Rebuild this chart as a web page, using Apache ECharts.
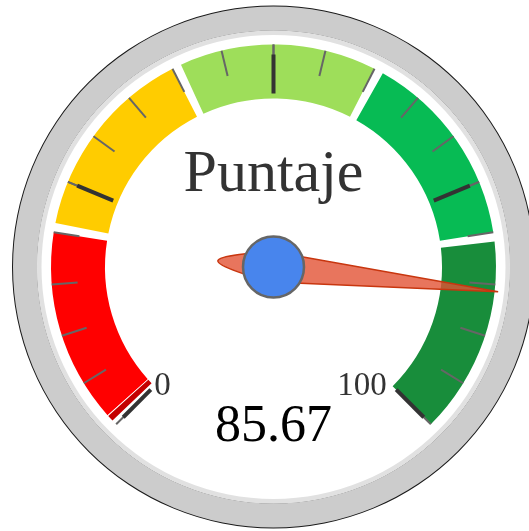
<!DOCTYPE html>
<html>
<head>
<meta charset="utf-8">
<style>
  html, body { margin: 0; padding: 0; background: #fff; }
  #chart { width: 529px; height: 531px; }
</style>
<script src="https://cdn.jsdelivr.net/npm/echarts@6/dist/echarts.min.js"></script>
</head>
<body>
<div id="chart"></div>
<script>
// datos del indicador
const scoreName = 'Puntaje';
const scoreValue = 85.67;
const axisMin = 0;
const axisMax = 100;
const bandLimits = [0, 20, 40, 60, 80, 100];
const shownLabels = [0, 100];

// estilos
const bandColors = ['#ff0000', '#ffcc00', '#9ede5a', '#07bb54', '#188d3b'];
const FONT = 'Liberation Serif';
const CENTER = [273.5, 267];
const START = 225;
const END = -45;

const span = axisMax - axisMin;
const frac = v => (v - axisMin) / span;

// tramos de color con un pequeño hueco transparente al inicio de cada uno
const buildBandStops = () => {
  const stops = [];
  const gap = 0.009;
  bandLimits.slice(0, -1).forEach((lo, i) => {
    const hi = bandLimits[i + 1];
    if (i === 0) {
      // borde oscuro del primer tramo
      stops.push([frac(lo) + 0.005, 'rgba(0,0,0,0)']);
      stops.push([frac(lo) + 0.011, '#c40000']);
      stops.push([frac(lo) + 0.012, 'rgba(255,255,255,0.8)']);
    } else {
      stops.push([frac(lo) + gap, 'rgba(0,0,0,0)']);
    }
    stops.push([frac(hi), bandColors[i]]);
  });
  return stops;
};

// gauge vacío que sólo dibuja un anillo
const ring = (radius, width, color) => ({
  type: 'gauge',
  center: CENTER,
  radius,
  startAngle: 90,
  endAngle: -270,
  silent: true,
  axisLine: { lineStyle: { width, color: [[1, color]] } },
  axisTick: { show: false },
  splitLine: { show: false },
  axisLabel: { show: false },
  pointer: { show: false },
  anchor: { show: false },
  title: { show: false },
  detail: { show: false },
  data: [],
});

const chart = echarts.init(document.getElementById('chart'), null, { renderer: 'canvas' });

chart.setOption({
  backgroundColor: '#fff',
  animation: false,
  series: [
    ring(261.5, 25, '#1a1a1a'),
    ring(260.5, 24, '#cccccc'),
    ring(236.5, 4.5, '#e1e1e1'),
    {
      // tramos de color + marcas menores
      type: 'gauge',
      center: CENTER,
      radius: 222.5,
      startAngle: START,
      endAngle: END,
      min: axisMin,
      max: axisMax,
      splitNumber: 4,
      silent: true,
      axisLine: { lineStyle: { width: 54, color: buildBandStops() } },
      axisTick: {
        show: true,
        splitNumber: 5,
        distance: -54,
        length: 26,
        lineStyle: { color: '#666', width: 2 },
      },
      splitLine: { show: false },
      axisLabel: { show: false },
      pointer: { show: false },
      anchor: { show: false },
      title: { show: false },
      detail: { show: false },
      data: [],
    },
    {
      type: 'gauge',
      center: CENTER,
      radius: 222.5,
      startAngle: START,
      endAngle: END,
      min: axisMin,
      max: axisMax,
      splitNumber: 4,
      axisLine: { show: false, lineStyle: { width: 0 } },
      axisTick: { show: false },
      splitLine: {
        show: true,
        length: 39,
        lineStyle: { color: '#333', width: 4 },
      },
      axisLabel: {
        show: true,
        distance: 5,
        formatter: v => {
          if (!shownLabels.includes(v)) return '';
          return v === axisMax ? '{r|' + v + '}' : '{l|' + v + '}';
        },
        rich: {
          l: { fontSize: 33, fontFamily: FONT, color: '#333' },
          r: { fontSize: 33, fontFamily: FONT, color: '#333', padding: [0, 6, 0, 0] },
        },
      },
      pointer: {
        show: true,
        icon: 'path://M15 0 L30 226 C28 246 20 282 15 282 C10 282 2 246 0 226 Z',
        length: 282,
        width: 30,
        offsetCenter: [0, 56],
        itemStyle: {
          color: 'rgba(226,82,52,0.8)',
          borderColor: '#c8360f',
          borderWidth: 1.5,
        },
      },
      anchor: {
        show: true,
        showAbove: true,
        size: 61,
        itemStyle: { color: '#4885ed', borderColor: '#666', borderWidth: 2.5 },
      },
      title: {
        show: true,
        offsetCenter: [0, -92],
        fontSize: 60,
        fontFamily: FONT,
        color: '#333',
      },
      detail: {
        show: true,
        offsetCenter: [0, 160],
        fontSize: 52,
        fontWeight: 'normal',
        fontFamily: FONT,
        color: '#000',
        formatter: '{value}',
      },
      data: [{ value: scoreValue, name: scoreName }],
    },
  ],
});
</script>
</body>
</html>
